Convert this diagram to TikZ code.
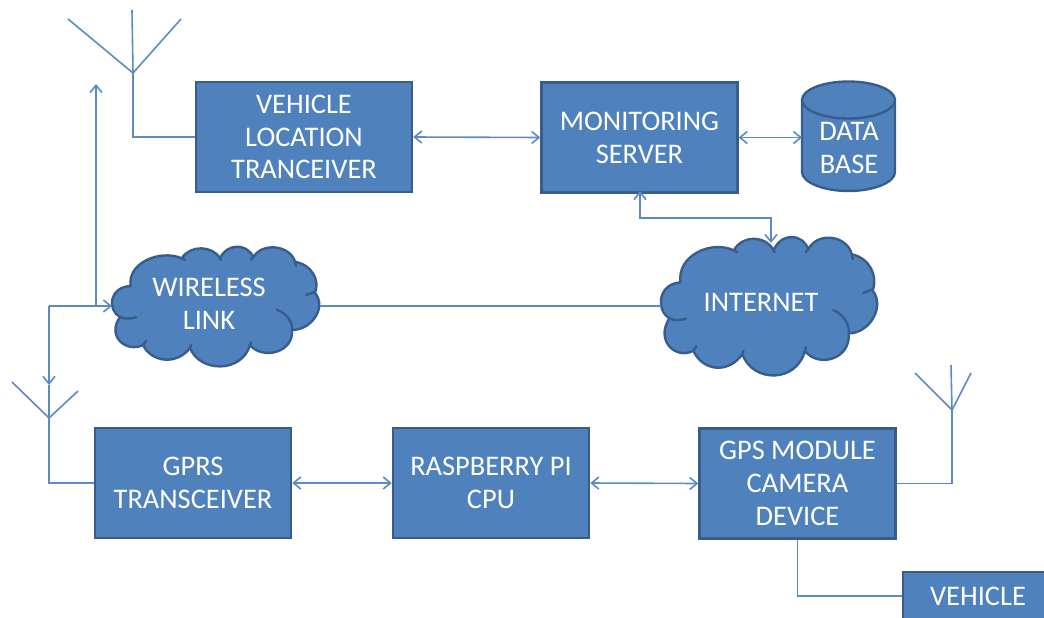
\documentclass[tikz,border=0pt]{standalone}
\usepackage{fontspec}
\setmainfont{Carlito}
\usetikzlibrary{arrows.meta}

\definecolor{boxfill}{HTML}{4F81BD}
\definecolor{boxedge}{HTML}{385D8A}
\definecolor{wirecol}{HTML}{5B8AC4}

\tikzset{
    >={Straight Barb[length=5.5pt,width=9pt]},
    wire/.style={draw=wirecol,line width=1.2pt},
    boxtext/.style={text=white,align=center,font=\fontsize{21.3}{24.6}\selectfont},
    unit/.style={boxtext,draw=boxedge,fill=boxfill,line width=1.8pt,inner sep=0pt,minimum width=147pt,minimum height=82.5pt},
    cloudbox/.style={inner sep=0pt,outer sep=0pt},
    cloudedge/.style={draw=boxedge,fill=boxfill,line width=1.8pt,line join=round},
    cloudfold/.style={draw=boxedge,line width=1.8pt,line cap=round},
}

\newcommand{\cloudoutline}{
    \path[cloudedge] (18.7,41) .. controls (15,18) and (48,4) .. (69.7,13.3)
        .. controls (78,0) and (100,0) .. (108,13.3)
        .. controls (115,-2) and (135,-2) .. (141.3,12.3)
        .. controls (150,-3) and (178,0) .. (183,16.7)
        .. controls (200,20) and (208,35) .. (203,48)
        .. controls (215,62) and (200,85) .. (180,85)
        .. controls (182,108) and (150,115) .. (138,100)
        .. controls (130,128) and (88,128) .. (78,103)
        .. controls (65,120) and (40,118) .. (31,100)
        .. controls (15,108) and (-6,92) .. (8,72)
        .. controls (-5,65) and (-3,42) .. (18.7,41) -- cycle;
    \path[cloudfold] (8,72) .. controls (12,74) and (18,74) .. (24,72.3);
    \path[cloudfold] (165,65) .. controls (175,68) and (181,78) .. (180,85);
    \path[cloudfold] (203,47) -- (194,50);
    \path[cloudfold] (31,100) -- (34,96);
    \path[cloudfold] (78,103) -- (79,100);
    \path[cloudfold] (138,100) -- (139,97);
    \path[cloudfold] (183,17) -- (184,21);
    \path[cloudfold] (141,12) -- (139,15);
    \path[cloudfold] (108,13) -- (109,15);
    \path[cloudfold] (70,13) -- (73,15);
}

\begin{document}
\begin{tikzpicture}[x=0.75pt,y=-0.75pt]
    \useasboundingbox (0,0) rectangle (1044,617);
    \clip (0,0) rectangle (1044,617);

    % clouds
    \begin{scope}[shift={(112,245)}]
        \cloudoutline
    \end{scope}
    \begin{scope}[shift={(661,235)},xscale=1.043,yscale=1.157]
        \cloudoutline
    \end{scope}
    \node[cloudbox,minimum width=156pt,minimum height=90.75pt] (wireless) at (216,306) {};
    \node[boxtext] (wirelesstext) at (209,304) {WIRELESS\\LINK};
    \node[cloudbox,minimum width=162.75pt,minimum height=105pt] (internet) at (769.5,306) {};
    \node[boxtext] (internettext) at (761,302) {INTERNET};

    % database
    \path[cloudedge] (802,100) -- (802,172) .. controls (802,182.2) and (823,191) .. (848.5,191)
        .. controls (874,191) and (895,182.2) .. (895,172) -- (895,100)
        .. controls (895,89.8) and (874,81.5) .. (848.5,81.5)
        .. controls (823,81.5) and (802,89.8) .. (802,100) -- cycle;
    \path[cloudfold] (802,100) .. controls (802,110.2) and (823,118.5) .. (848.5,118.5)
        .. controls (874,118.5) and (895,110.2) .. (895,100);
    \node[cloudbox,minimum width=69.75pt,minimum height=82.5pt] (database) at (848.5,136) {};
    \node[boxtext] (databasetext) at (849,148) {DATA\\BASE};

    % boxes
    \node[unit,minimum width=162pt] (vehloc) at (304,137) {VEHICLE\\LOCATION\\TRANCEIVER};
    \node[unit] (monitor) at (639.5,137.5) {MONITORING\\SERVER};
    \node[unit] (gprs) at (193,483) {GPRS\\TRANSCEIVER};
    \node[unit] (raspberry) at (491,483) {RASPBERRY PI\\CPU};
    \node[unit] (gps) at (797.5,483.5) {GPS MODULE\\CAMERA\\DEVICE};
    \node[unit,minimum width=112.5pt,minimum height=36pt] (vehicle) at (978,596) {VEHICLE};

    % antennas
    \coordinate (antone) at (133,73);
    \coordinate (anttwo) at (49,418);
    \coordinate (antthree) at (952,410);
    \draw[wire] (132,10) -- (antone);
    \draw[wire] (68,19) -- (antone);
    \draw[wire] (181,19) -- (antone);
    \draw[wire] (12,382) -- (anttwo);
    \draw[wire] (78,391) -- (anttwo);
    \draw[wire] (951,365) -- (antthree);
    \draw[wire] (915,373) -- (antthree);
    \draw[wire] (971,373) -- (antthree);

    % connectors
    \coordinate (junction) at (49,306);
    \coordinate (branch) at (96,306);
    \coordinate (uptip) at (96,84);
    \coordinate (downtip) at (49,385);
    \coordinate (internettop) at (771,243);
    \coordinate (serverdrop) at (640,218);
    \coordinate (serverfoot) at (640,191);

    \draw[wire] (antone) |- (vehloc.west);
    \draw[wire,<->] (vehloc.east) -- (monitor.west);
    \draw[wire,<->] (monitor.east) -- (database.west |- monitor.east);
    \draw[wire,<->] (serverfoot) -- (serverdrop) -| (internettop);
    \draw[wire] (wireless.east) -- (internet.west);
    \draw[wire,->] (branch) -- (uptip);
    \draw[wire,->] (junction) -- (wireless.west);
    \draw[wire,->] (junction) -- (downtip);
    \draw[wire] (downtip) |- (gprs.west);
    \draw[wire,<->] (gprs.east) -- (raspberry.west);
    \draw[wire,<->] (raspberry.east) -- (gps.west);
    \draw[wire] (gps.east) -| (antthree);
    \draw[wire] (gps.south) |- (vehicle.west);
\end{tikzpicture}
\end{document}
